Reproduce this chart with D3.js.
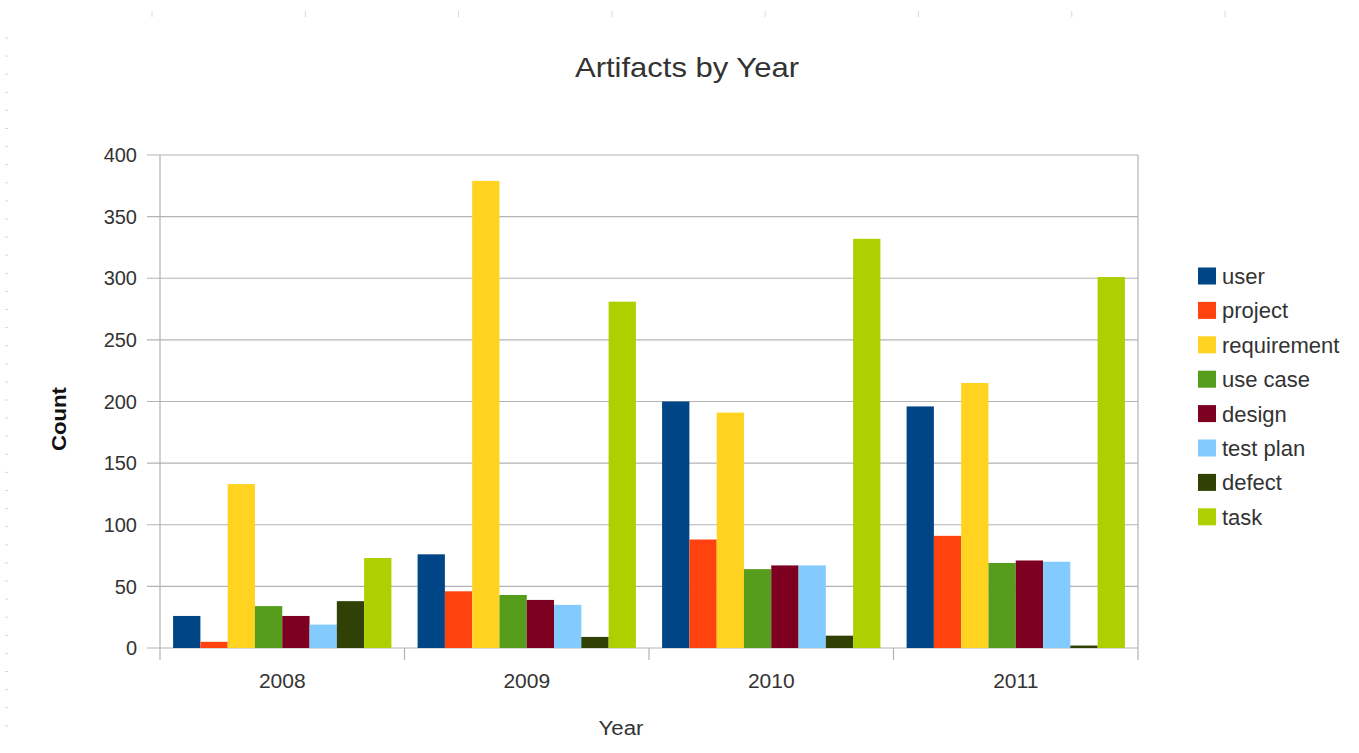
<!DOCTYPE html>
<html><head><meta charset="utf-8">
<script src="https://cdn.jsdelivr.net/npm/d3@7"></script>
<style>body{margin:0;background:#fff;}svg{display:block;font-family:"Liberation Sans",Arial,sans-serif;}</style>
</head><body><svg id="c" width="1359" height="753"></svg>
<script>
const years = ["2008","2009","2010","2011"];
const seriesNames = ["user","project","requirement","use case","design","test plan","defect","task"];
const user = [26, 76, 200, 196];
const project = [5, 46, 88, 91];
const requirement = [133, 379, 191, 215];
const useCase = [34, 43, 64, 69];
const design = [26, 39, 67, 71];
const testPlan = [19, 35, 67, 70];
const defect = [38, 9, 10, 2];
const task = [73, 281, 332, 301];
const colors = ["#004586","#ff420e","#ffd320","#579d1c","#7e0021","#83caff","#314004","#aecf00"];
const yTicks = [0,50,100,150,200,250,300,350,400];

const values = [user, project, requirement, useCase, design, testPlan, defect, task];
const svg = d3.select("#c");
const L = 160, R = 1138, T = 155, B = 648;

// faint ruler marks (page artifacts)
const topMarks = d3.range(8).map(i => 152 + i*153.3);
svg.selectAll(".tm").data(topMarks).join("line")
  .attr("x1", d=>d).attr("x2", d=>d).attr("y1", 11).attr("y2", 17)
  .attr("stroke", "#d8d8d8").attr("stroke-width", 1);
const leftMarks = d3.range(39).map(i => 38 + i*18.1);
svg.selectAll(".lm").data(leftMarks).join("line")
  .attr("x1", 5).attr("x2", 8).attr("y1", d=>d).attr("y2", d=>d)
  .attr("stroke", "#d8d8d8").attr("stroke-width", 1);

const x0 = d3.scaleBand().domain(years).range([L, R]).padding(0);
const x1 = d3.scaleBand().domain(seriesNames).range([0, x0.bandwidth()]).paddingInner(0).paddingOuter(0.48);
const y = d3.scaleLinear().domain([0, 400]).range([B, T]);

// gridlines
svg.append("g").selectAll("line").data(yTicks).join("line")
  .attr("x1", L - 13).attr("x2", R).attr("y1", d=>y(d)).attr("y2", d=>y(d))
  .attr("stroke", "#b3b3b3").attr("stroke-width", 1.2);

// bars
const g = svg.append("g");
years.forEach((yr, i) => {
  seriesNames.forEach((s, j) => {
    g.append("rect")
      .attr("x", x0(yr) + x1(s))
      .attr("y", y(values[j][i]))
      .attr("width", x1.bandwidth())
      .attr("height", B - y(values[j][i]))
      .attr("fill", colors[j]);
  });
});

// axes frame
svg.append("line").attr("x1", L).attr("x2", L).attr("y1", T).attr("y2", B + 12).attr("stroke", "#b3b3b3").attr("stroke-width", 1.2);
svg.append("line").attr("x1", R).attr("x2", R).attr("y1", T).attr("y2", B + 12).attr("stroke", "#b3b3b3").attr("stroke-width", 1.2);
svg.append("g").selectAll("line").data(years.slice(1)).join("line")
  .attr("x1", d=>x0(d)).attr("x2", d=>x0(d)).attr("y1", B).attr("y2", B + 12)
  .attr("stroke", "#b3b3b3").attr("stroke-width", 1.2);

// y tick labels
svg.append("g").selectAll("text").data(yTicks).join("text")
  .attr("x", 137).attr("y", d=>y(d)).attr("dy", "0.36em")
  .attr("text-anchor", "end").attr("font-size", 20).attr("fill", "#333")
  .text(d=>d);

// x tick labels
svg.append("g").selectAll("text").data(years).join("text")
  .attr("x", d=>x0(d) + x0.bandwidth()/2).attr("y", 688)
  .attr("text-anchor", "middle").attr("font-size", 21).attr("fill", "#333")
  .text(d=>d);

// title
svg.append("text").attr("x", 687).attr("y", 77).attr("text-anchor", "middle")
  .attr("font-size", 28).attr("textLength", 224).attr("lengthAdjust", "spacingAndGlyphs")
  .attr("fill", "#333").text("Artifacts by Year");
// axis titles
svg.append("text").attr("x", 621).attr("y", 735).attr("text-anchor", "middle")
  .attr("font-size", 20).attr("textLength", 45).attr("lengthAdjust", "spacingAndGlyphs")
  .attr("fill", "#333").text("Year");
svg.append("text").attr("transform", "translate(66,419) rotate(-90)").attr("text-anchor", "middle")
  .attr("font-size", 21).attr("font-weight", "bold").attr("textLength", 64).attr("lengthAdjust", "spacingAndGlyphs")
  .attr("fill", "#111").text("Count");

// legend
const lg = svg.append("g").attr("transform", "translate(1198,276)");
seriesNames.forEach((s, j) => {
  const row = lg.append("g").attr("transform", `translate(0,${j*34.4})`);
  row.append("rect").attr("x", 0).attr("y", -8.5).attr("width", 18).attr("height", 17).attr("fill", colors[j]);
  row.append("text").attr("x", 24).attr("y", 0).attr("dy", "0.36em")
    .attr("font-size", 22).attr("fill", "#333").text(s);
});
</script>
</body></html>
